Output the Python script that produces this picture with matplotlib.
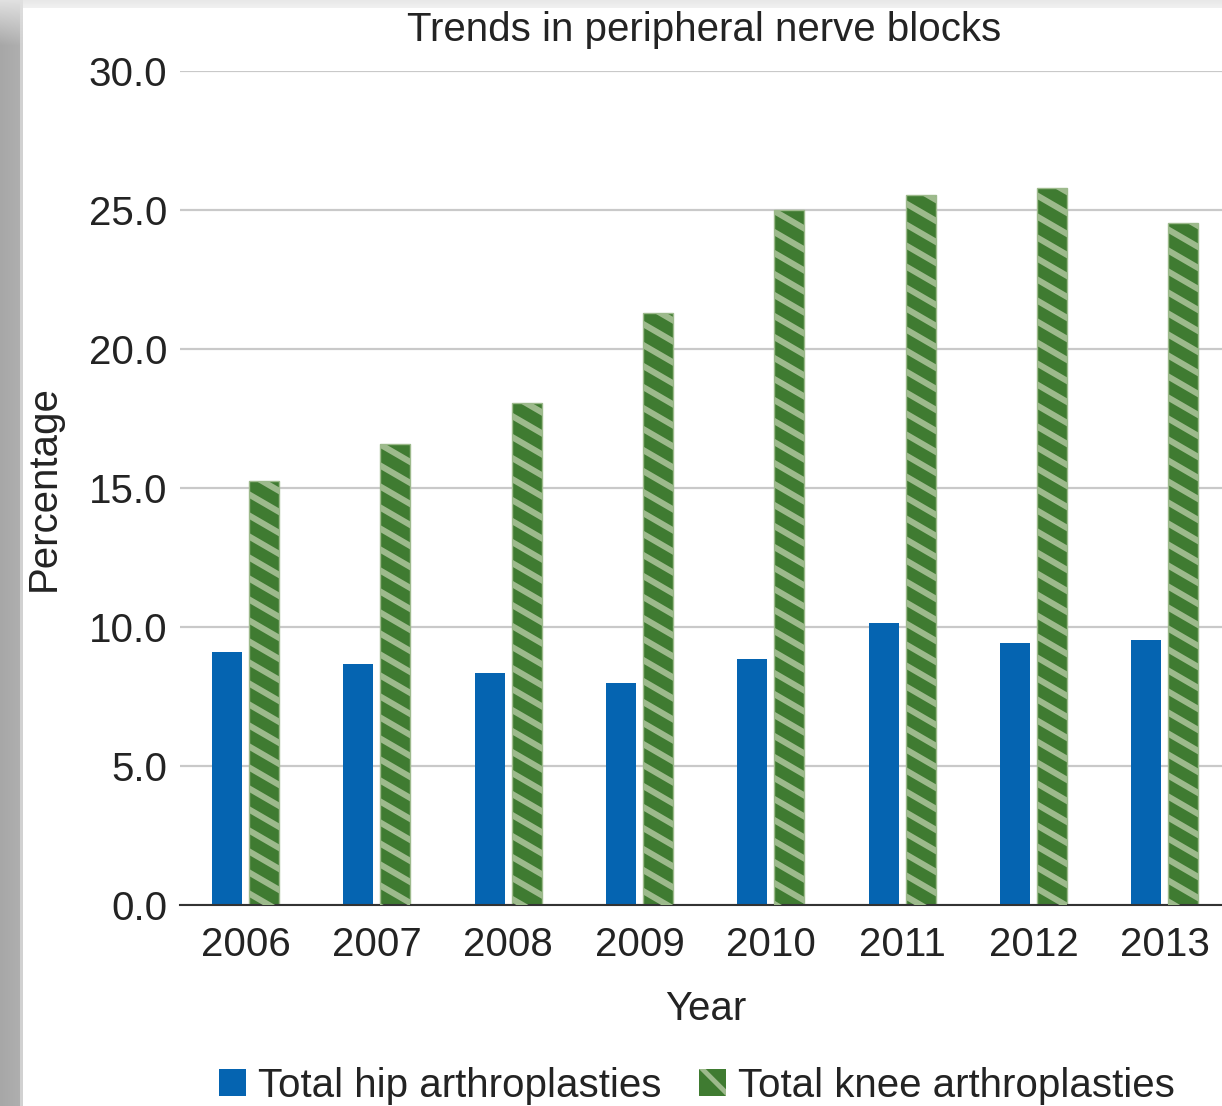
import numpy as np
import matplotlib
matplotlib.use("Agg")
import matplotlib.pyplot as plt
from matplotlib.collections import LineCollection
from matplotlib.patches import Patch
from matplotlib.transforms import IdentityTransform

# ---- data ----
years = ["2006", "2007", "2008", "2009", "2010", "2011", "2012", "2013"]
hip = [9.1, 8.67, 8.35, 7.99, 8.85, 10.14, 9.42, 9.53]
knee = [15.25, 16.58, 18.06, 21.29, 25.0, 25.54, 25.79, 24.53]
yticks = [0, 5, 10, 15, 20, 25, 30]
title = "Trends in peripheral nerve blocks"
xlabel = "Year"
ylabel = "Percentage"
series_names = ["Total hip arthroplasties", "Total knee arthroplasties"]

# ---- style ----
W, H, DPI = 1222, 1106, 100
BLUE = "#0564b1"
GREEN = "#3f7b31"
LIGHT = "#9dba8c"
TEXT = "#232323"
FS = 29

plt.rcParams["font.family"] = ["Liberation Sans", "DejaVu Sans"]

fig = plt.figure(figsize=(W / DPI, H / DPI), dpi=DPI, facecolor="white")

# screenshot frame (left shadow band and top band)
left = np.ones((H, 23, 3))
base = np.linspace(0.655, 0.69, 23)
left[:, :, :] = base[None, :, None]
left[:, 20:, :] = 0.82
fade = np.clip(np.arange(H) / 45.0, 0, 1)
left = left * fade[:, None, None] + 0.88 * (1 - fade[:, None, None])
fig.figimage(left, xo=0, yo=0, origin="upper", zorder=0)
top = np.ones((8, W, 3)) * np.linspace(0.91, 0.945, 8)[:, None, None]
fig.figimage(top, xo=23, yo=H - 8, origin="upper", zorder=0)

ax_l, ax_b, ax_t = 180, 905, 71
ax = fig.add_axes([ax_l / W, (H - ax_b) / H, (W - ax_l) / W, (ax_b - ax_t) / H])

step = 131.3
x = np.arange(len(years))
bw = 0.228
off = 0.141
ax.set_xlim(-0.5, -0.5 + (W - ax_l) / step)
ax.set_ylim(0, 30)

ax.bar(x - off, hip, width=bw, color=BLUE, linewidth=0, zorder=2)
kbars = ax.bar(x + off, knee, width=bw, color=GREEN, edgecolor=LIGHT,
               linewidth=1.0, zorder=2)

# diagonal light stripes on knee bars (drawn in pixel space, clipped to bars)
period = 21.0
slope = 0.58
for b in kbars:
    (x0, y0), (x1, y1) = ax.transData.transform(
        [(b.get_x(), 0), (b.get_x() + b.get_width(), b.get_height())])
    cmin = y0 + slope * x0 - period
    cmax = y1 + slope * x1 + period
    cs = np.arange(np.floor(cmin / period) * period, cmax, period)
    segs = [[(x0 - 5, c - slope * (x0 - 5)), (x1 + 5, c - slope * (x1 + 5))] for c in cs]
    lc = LineCollection(segs, colors=LIGHT, linewidths=4.4,
                        transform=IdentityTransform(), zorder=3)
    fig.add_artist(lc)
    lc.set_clip_path(b)

ax.set_yticks(yticks)
ax.set_yticklabels([f"{v:.1f}" for v in yticks])
ax.set_xticks(x)
ax.set_xticklabels(years)
ax.tick_params(axis="both", length=0, labelsize=FS, colors=TEXT)
ax.tick_params(axis="y", pad=9)
ax.tick_params(axis="x", pad=15)
ax.grid(axis="y", color="#c9c9c9", linewidth=1.6)
ax.set_axisbelow(True)
for s in ["left", "right", "top"]:
    ax.spines[s].set_visible(False)
ax.spines["bottom"].set_color("#333333")
ax.spines["bottom"].set_linewidth(1.5)
ax.spines["bottom"].set_zorder(4)

fig.text(704 / W, (H - 41) / H, title, ha="center", va="baseline",
         fontsize=FS, color=TEXT)
fig.text(706 / W, (H - 1020) / H, xlabel, ha="center", va="baseline",
         fontsize=FS, color=TEXT)
fig.text(44 / W, (H - 488) / H, ylabel, ha="center", va="center",
         rotation=90, fontsize=FS, color=TEXT)

plt.rcParams["hatch.linewidth"] = 3.5
handles = [Patch(facecolor=BLUE, edgecolor=BLUE, linewidth=0),
           Patch(facecolor=GREEN, edgecolor=LIGHT, hatch="\\", linewidth=0)]
fig.legend(handles, series_names, loc="center", ncol=2, frameon=False,
           bbox_to_anchor=(697 / W, (H - 1086) / H), fontsize=FS,
           handlelength=0.65, handleheight=0.65, handletextpad=0.3,
           columnspacing=0.95, borderpad=0, labelcolor=TEXT)

fig.savefig("out.png", dpi=DPI, facecolor="white")
